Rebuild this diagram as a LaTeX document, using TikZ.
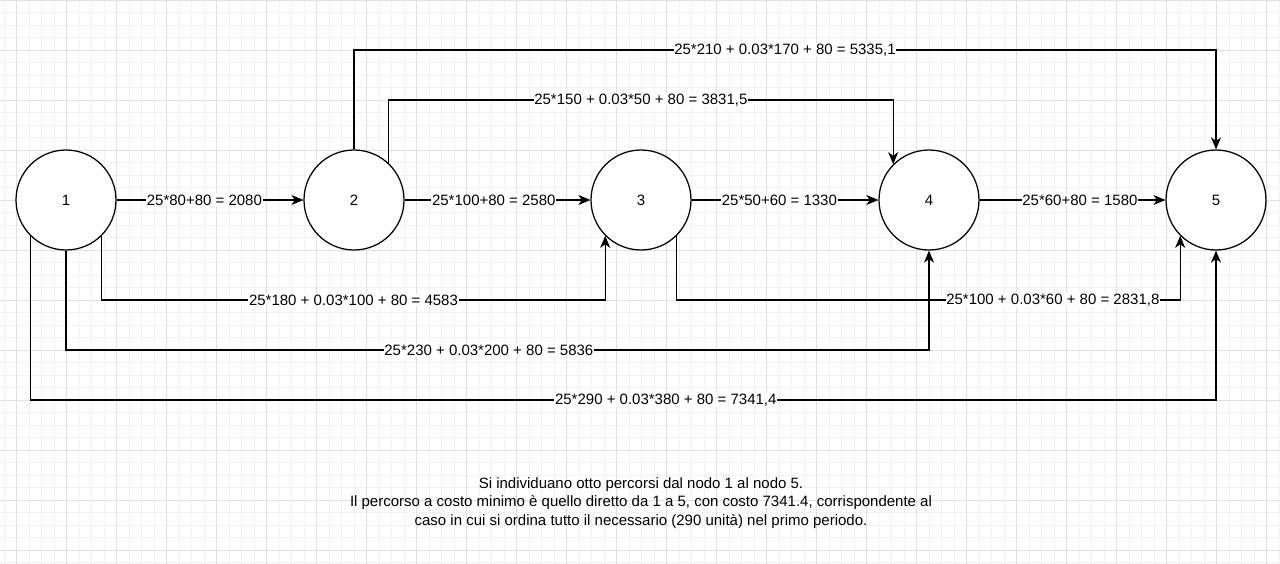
\documentclass[tikz,border=0pt]{standalone}
\usepackage{fontspec}
\setmainfont{Liberation Sans}
\usetikzlibrary{arrows.meta}

\begin{document}
\begin{tikzpicture}[x=1pt,y=-1pt,
  minorgrid/.style={draw=black!5,line width=0.7pt},
  majorgrid/.style={draw=black!12,line width=0.9pt},
  state/.style={circle,draw=black,line width=1.25pt,fill=white,minimum size=100pt,inner sep=0pt,font=\fontsize{15}{18}\selectfont},
  flow/.style={draw=black,line width=1.25pt,-{Stealth[length=12pt,width=10pt,inset=3.5pt]}},
  lbl/.style={fill=white,inner sep=0.6pt,font=\fontsize{15}{18}\selectfont}]
\useasboundingbox (0,0) rectangle (1280,564);
\fill[white] (0,0) rectangle (1280,564);
% background grid
\foreach \k in {0,...,102} \draw[minorgrid] ({4.17+12.5*\k},0) -- ++(0,564);
\foreach \k in {0,...,45} \draw[minorgrid] (0,{12.5*\k}) -- ++(1280,0);
\foreach \k in {0,...,25} \draw[majorgrid] ({16.67+50*\k},0) -- ++(0,564);
\foreach \k in {0,...,11} \draw[majorgrid] (0,{50*\k}) -- ++(1280,0);
% nodes
\node[state] (n1) at (66,200) {1};
\node[state] (n2) at (354,200) {2};
\node[state] (n3) at (641,200) {3};
\node[state] (n4) at (929,200) {4};
\node[state] (n5) at (1216,200) {5};
% track heights
\coordinate (rowA) at (0,50);
\coordinate (rowB) at (0,100);
\coordinate (rowC) at (0,300);
\coordinate (rowD) at (0,350);
\coordinate (rowE) at (0,400);
% direct arcs
\draw[flow] (n1) -- node[lbl,pos=0.47] {25*80+80 = 2080} (n2);
\draw[flow] (n2) -- node[lbl,pos=0.48] {25*100+80 = 2580} (n3);
\draw[flow] (n3) -- node[lbl,pos=0.47] {25*50+60 = 1330} (n4);
\draw[flow] (n4) -- node[lbl,pos=0.54] {25*60+80 = 1580} (n5);
% upper arcs
\draw[flow] (n2.north) -- (n2.north |- rowA) -- node[lbl] {25*210 + 0.03*170 + 80 = 5335,1} (n5.north |- rowA) -- (n5.north);
\draw[flow] (n2.47) -- (n2.47 |- rowB) -- node[lbl] {25*150 + 0.03*50 + 80 = 3831,5} (n4.135 |- rowB) -- (n4.135);
% lower arcs
\draw[flow] (n1.-45) -- (n1.-45 |- rowC) -- node[lbl] {25*180 + 0.03*100 + 80 = 4583} (n3.-135 |- rowC) -- (n3.-135);
\draw[flow] (n1.south) -- (n1.south |- rowD) -- node[lbl,pos=0.49] {25*230 + 0.03*200 + 80 = 5836} (n4.south |- rowD) -- (n4.south);
\draw[flow] (n1.-135) -- (n1.-135 |- rowE) -- node[lbl,pos=0.536] {25*290 + 0.03*380 + 80 = 7341,4} (n5.south |- rowE) -- (n5.south);
\draw[flow] (n3.-45) -- (n3.-45 |- rowC) -- node[lbl,pos=0.747] {25*100 + 0.03*60 + 80 = 2831,8} (n5.-135 |- rowC) -- (n5.-135);
% conclusion
\node[align=center,font=\fontsize{15}{18.5}\selectfont] (note) at (641,503)
  {Si individuano otto percorsi dal nodo 1 al nodo 5.\\
   Il percorso a costo minimo è quello diretto da 1 a 5, con costo 7341.4, corrispondente al\\
   caso in cui si ordina tutto il necessario (290 unità) nel primo periodo.};
\end{tikzpicture}
\end{document}
